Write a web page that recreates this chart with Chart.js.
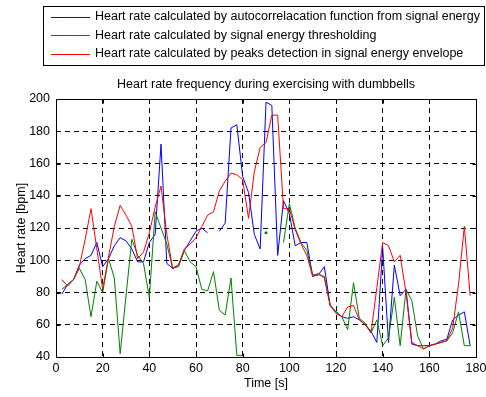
<!DOCTYPE html>
<html>
<head>
<meta charset="utf-8">
<script src="https://cdn.jsdelivr.net/npm/chart.js@4/dist/chart.umd.min.js"></script>
<style>
  html, body { margin: 0; padding: 0; background: #fff; }
  #wrap { width: 486px; height: 397px; }
</style>
</head>
<body>
<div id="wrap"><canvas id="chart_canvas" width="486" height="397"></canvas></div>
<script>
// heart rate over time, three estimators
const times = [
  2.5, 5, 7.5, 10, 12.5, 15, 17.5, 20, 22.5, 25,
  27.5, 30, 32.5, 35, 37.5, 40, 42.5, 45, 47.5, 50,
  52.5, 55, 57.5, 60, 62.5, 65, 67.5, 70, 72.5, 75,
  77.5, 80, 82.5, 85, 87.5, 90, 92.5, 95, 97.5, 100,
  102.5, 105, 107.5, 110, 112.5, 115, 117.5, 120, 122.5, 125,
  127.5, 130, 132.5, 135, 137.5, 140, 142.5, 145, 147.5, 150,
  152.5, 155, 157.5, 160, 162.5, 165, 167.5, 170, 172.5, 175,
  177.5
];

const hr_autocorr = [
  79, 85, 88, 97, 101, 103, 111, 96, 101, 109,
  114, 112, 107, 99, 99, 111, 116, 172, 98, 95,
  97, 106, 112, 118, 120, 117, null, 118, 123, 182,
  184, 152, 142, 116, 107, 198, 196, 103, 137, 129,
  109, 111, 111, 90, 91, 96, 72, 68, 65, 64,
  65, 63, 60, 56, 49, 108, 49, 97, 78, 82,
  48, 47, 47, 47, 48, 50, 51, 63, 66, 68,
  47
];

const hr_thresh = [
  82, 85, 88, 95, 88, 65, 87, 80, 101, 89,
  42, 78, 113, 103, 98, 77, 130, 120, 110, 95,
  96, 106, 99, 96, 82, 81, 93, 69, 66, 89,
  41, 41, null, null, null, 117, null, null, 111, 135,
  120, 111, 106, 91, 91, 90, 72, 68, 65, 57,
  86, 64, 61, 55, 63, 47, 52, 77, 47, 82,
  75, 53, 45, 47, 48, 49, 50, 55, 68, 47,
  47
];

const hr_peaks = [
  88, 84, 88, 96, 113, 132, 107, 82, 102, 121,
  134, 128, 121, 101, 105, 117, 133, 146, 116, 95,
  97, 107, 110, 114, 121, 128, 130, 143, 149, 154,
  153, 150, 126, 155, 170, 173, 190, 190, 132, 132,
  119, 110, 103, 90, 92, 89, 72, 67, 65, 71,
  72, 63, 60, 55, 83, 111, 109, 99, 103, 80,
  49, 47, 45, 47, 48, 49, 50, 58, 85, 121,
  78
];

const series_names = [
  "Heart rate calculated by autocorrelacation function from signal energy",
  "Heart rate calculated by signal energy thresholding",
  "Heart rate calculated by peaks detection in signal energy envelope"
];
const series_colors = ["#0000ff", "#008000", "#ff0000"];
const x_ticks = [0, 20, 40, 60, 80, 100, 120, 140, 160, 180];
const y_ticks = [40, 60, 80, 100, 120, 140, 160, 180, 200];
const chart_title = "Heart rate frequency during exercising with dumbbells";

const FONT = "'Liberation Sans', Arial, Helvetica, sans-serif";
const FSIZE = 12.5;

function pts(vals) {
  return times.map((t, i) => ({x: t, y: vals[i]}));
}

// lone samples (nulls on both sides) get a dot, like matlab shows them
function lone_radius(vals) {
  return function(c) {
    let i = c.dataIndex;
    if (vals[i] == null) return 0;
    let prev = i > 0 ? vals[i - 1] : null;
    let next = i < vals.length - 1 ? vals[i + 1] : null;
    return (prev == null && next == null) ? 1.5 : 0;
  };
}

const all_vals = [hr_autocorr, hr_thresh, hr_peaks];
const datasets = all_vals.map((vals, k) => ({
  label: series_names[k],
  data: pts(vals),
  borderColor: series_colors[k],
  backgroundColor: series_colors[k],
  borderWidth: 1,
  pointRadius: lone_radius(vals),
  pointBorderWidth: 0,
  pointHoverRadius: 0,
  tension: 0,
  spanGaps: false,
  order: 3 - k
}));

// frame, inward ticks, title and the boxed legend
const matlab_bits = {
  id: "matlab_bits",
  beforeDraw(chart) {
    const ctx = chart.ctx;
    ctx.save();
    ctx.fillStyle = "#fff";
    ctx.fillRect(0, 0, chart.width, chart.height);
    ctx.restore();
  },
  afterDraw(chart) {
    const ctx = chart.ctx;
    const a = chart.chartArea;
    const sx = chart.scales.x, sy = chart.scales.y;
    const L = Math.round(a.left) + 0.5, R = Math.round(a.right) + 0.5;
    const T = Math.round(a.top) + 0.5, B = Math.round(a.bottom) + 0.5;
    ctx.save();
    ctx.strokeStyle = "#000";
    ctx.lineWidth = 1;
    ctx.setLineDash([]);
    ctx.strokeRect(L, T, R - L, B - T);
    ctx.beginPath();
    for (const v of x_ticks) {
      const px = Math.round(sx.getPixelForValue(v)) + 0.5;
      ctx.moveTo(px, B); ctx.lineTo(px, B - 4);
      ctx.moveTo(px, T); ctx.lineTo(px, T + 4);
    }
    for (const v of y_ticks) {
      const py = Math.round(sy.getPixelForValue(v)) + 0.5;
      ctx.moveTo(L, py); ctx.lineTo(L + 4, py);
      ctx.moveTo(R, py); ctx.lineTo(R - 4, py);
    }
    ctx.stroke();

    // title
    ctx.fillStyle = "#000";
    ctx.font = FSIZE + "px " + FONT;
    ctx.textAlign = "center";
    ctx.textBaseline = "middle";
    ctx.fillText(chart_title, (a.left + a.right) / 2, 85);

    // legend box
    ctx.strokeRect(43.5, 6.5, 441, 59);
    ctx.textAlign = "left";
    const rows = [16.5, 35, 53.5];
    chart.data.datasets.forEach((ds, k) => {
      const y = Math.round(rows[k]) + 0.5;
      ctx.strokeStyle = ds.borderColor;
      ctx.beginPath();
      ctx.moveTo(51, y); ctx.lineTo(90, y);
      ctx.stroke();
      ctx.fillStyle = "#000";
      ctx.fillText(ds.label, 95, rows[k] + 0.5);
    });
    ctx.restore();
  }
};

const tick_font = {family: FONT, size: FSIZE};

const chart = new Chart(document.getElementById("chart_canvas").getContext("2d"), {
  type: "line",
  data: {datasets: datasets},
  options: {
    responsive: false,
    animation: false,
    events: [],
    layout: {padding: {top: 99, right: 10, left: 0, bottom: 0}},
    plugins: {
      legend: {display: false},
      title: {display: false},
      tooltip: {enabled: false}
    },
    scales: {
      x: {
        type: "linear",
        min: 0, max: 180,
        afterBuildTicks: s => { s.ticks = x_ticks.map(v => ({value: v})); },
        afterFit: s => { s.height = 40; s.paddingLeft = 0; s.paddingRight = 0; },
        ticks: {color: "#000", font: tick_font, padding: 4, maxRotation: 0, autoSkip: false},
        grid: {color: "#000", lineWidth: 1, drawTicks: false},
        border: {display: false, dash: [5, 4]},
        title: {display: true, text: "Time [s]", color: "#000", font: tick_font, padding: {top: 0, bottom: 6}}
      },
      y: {
        min: 40, max: 200,
        afterBuildTicks: s => { s.ticks = y_ticks.map(v => ({value: v})); },
        afterFit: s => { s.width = 56; s.paddingTop = 0; s.paddingBottom = 0; },
        ticks: {color: "#000", font: tick_font, padding: 6, autoSkip: false},
        grid: {color: "#000", lineWidth: 1, drawTicks: false},
        border: {display: false, dash: [5, 4]},
        title: {display: true, text: "Heart rate [bpm]", color: "#000", font: tick_font, padding: {top: 14, bottom: 0}}
      }
    }
  },
  plugins: [matlab_bits]
});
</script>
</body>
</html>
